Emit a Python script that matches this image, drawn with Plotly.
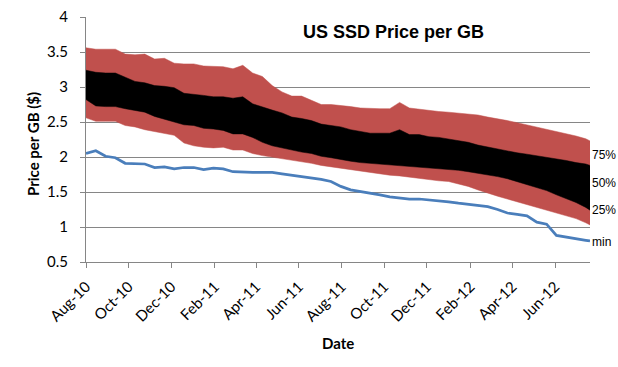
import plotly.graph_objects as go

dates = [
    "2010-08-01", "2010-08-15", "2010-08-29", "2010-09-12", "2010-09-26", "2010-10-10",
    "2010-10-24", "2010-11-07", "2010-11-21", "2010-12-05", "2010-12-19", "2011-01-02",
    "2011-01-16", "2011-01-30", "2011-02-13", "2011-02-27", "2011-03-13", "2011-03-27",
    "2011-04-10", "2011-04-24", "2011-05-08", "2011-05-22", "2011-06-05", "2011-06-19",
    "2011-07-03", "2011-07-17", "2011-07-31", "2011-08-14", "2011-08-28", "2011-09-11",
    "2011-09-25", "2011-10-09", "2011-10-23", "2011-11-06", "2011-11-20", "2011-12-04",
    "2011-12-18", "2012-01-01", "2012-01-15", "2012-01-29", "2012-02-12", "2012-02-26",
    "2012-03-11", "2012-03-25", "2012-04-08", "2012-04-22", "2012-05-06", "2012-05-20",
    "2012-06-03", "2012-06-17", "2012-07-01", "2012-07-15", "2012-07-21",
]

red_top = [
    3.56, 3.54, 3.54, 3.54, 3.47, 3.46, 3.47, 3.40, 3.41, 3.34, 3.33, 3.33, 3.30,
    3.29, 3.29, 3.26, 3.31, 3.20, 3.15, 3.02, 2.93, 2.87, 2.87, 2.81, 2.75, 2.75,
    2.74, 2.72, 2.70, 2.69, 2.69, 2.69, 2.78, 2.70, 2.68, 2.66, 2.65, 2.64, 2.63,
    2.62, 2.60, 2.57, 2.55, 2.52, 2.49, 2.46, 2.43, 2.40, 2.36, 2.33, 2.30, 2.26, 2.23,
]

black_top = [
    3.24, 3.21, 3.20, 3.20, 3.14, 3.08, 3.06, 3.02, 3.01, 2.99, 2.91, 2.90, 2.88,
    2.86, 2.86, 2.84, 2.86, 2.76, 2.71, 2.67, 2.63, 2.57, 2.55, 2.52, 2.47, 2.45,
    2.43, 2.39, 2.36, 2.34, 2.34, 2.34, 2.39, 2.32, 2.32, 2.29, 2.28, 2.26, 2.24,
    2.21, 2.17, 2.14, 2.11, 2.09, 2.06, 2.04, 2.02, 2.00, 1.98, 1.95, 1.92, 1.90, 1.88,
]

black_bottom = [
    2.82, 2.73, 2.72, 2.72, 2.69, 2.67, 2.64, 2.58, 2.54, 2.50, 2.46, 2.45, 2.41,
    2.40, 2.38, 2.33, 2.33, 2.28, 2.21, 2.16, 2.13, 2.09, 2.07, 2.05, 2.01, 1.99,
    1.96, 1.94, 1.92, 1.91, 1.90, 1.89, 1.88, 1.87, 1.86, 1.85, 1.84, 1.83, 1.81,
    1.79, 1.77, 1.75, 1.72, 1.69, 1.65, 1.61, 1.57, 1.52, 1.46, 1.41, 1.35, 1.28, 1.24,
]

red_bottom = [
    2.56, 2.51, 2.51, 2.51, 2.45, 2.43, 2.39, 2.36, 2.33, 2.31, 2.20, 2.16, 2.14,
    2.13, 2.14, 2.10, 2.10, 2.05, 2.02, 2.00, 1.98, 1.95, 1.93, 1.91, 1.88, 1.86,
    1.83, 1.81, 1.79, 1.77, 1.76, 1.74, 1.73, 1.71, 1.69, 1.68, 1.66, 1.65, 1.62,
    1.58, 1.53, 1.48, 1.44, 1.40, 1.36, 1.33, 1.29, 1.25, 1.21, 1.16, 1.12, 1.06, 1.03,
]

min_price = [
    2.05, 2.09, 2.01, 1.99, 1.91, 1.91, 1.90, 1.85, 1.86, 1.83, 1.85, 1.85, 1.82,
    1.84, 1.83, 1.79, 1.78, 1.78, 1.78, 1.78, 1.76, 1.74, 1.72, 1.71, 1.68, 1.65,
    1.58, 1.53, 1.51, 1.48, 1.46, 1.43, 1.41, 1.40, 1.40, 1.39, 1.38, 1.36, 1.34,
    1.32, 1.31, 1.29, 1.25, 1.20, 1.18, 1.16, 1.07, 1.04, 0.88, 0.86, 0.83, 0.81, 0.80,
]

tick_dates = ["2010-08-01", "2010-10-01", "2010-12-01", "2011-02-01", "2011-04-01",
              "2011-06-01", "2011-08-01", "2011-10-01", "2011-12-01", "2012-02-01",
              "2012-04-01", "2012-06-01"]
tick_labels = ["Aug-10", "Oct-10", "Dec-10", "Feb-11", "Apr-11", "Jun-11",
               "Aug-11", "Oct-11", "Dec-11", "Feb-12", "Apr-12", "Jun-12"]

y_ticks = [0.5, 1, 1.5, 2, 2.5, 3, 3.5, 4]
y_tick_labels = ["0.5", "1", "1.5", "2", "2.5", "3", "3.5", "4"]

series_labels = ["75%", "50%", "25%", "min"]
label_values = [2.03, 1.63, 1.25, 0.78]

RED = "#C0504D"
BLUE = "#4A7EBB"
GRID = "#868686"

fig = go.Figure()
fig.add_trace(go.Scatter(x=dates, y=red_bottom, mode="lines",
                         line=dict(color=RED, width=0.5), showlegend=False, hoverinfo="skip"))
fig.add_trace(go.Scatter(x=dates, y=red_top, mode="lines", fill="tonexty", fillcolor=RED,
                         line=dict(color=RED, width=0.5), showlegend=False))
fig.add_trace(go.Scatter(x=dates, y=black_bottom, mode="lines",
                         line=dict(color="black", width=0.5), showlegend=False, hoverinfo="skip"))
fig.add_trace(go.Scatter(x=dates, y=black_top, mode="lines", fill="tonexty", fillcolor="black",
                         line=dict(color="black", width=0.5), showlegend=False))
fig.add_trace(go.Scatter(x=dates, y=min_price, mode="lines",
                         line=dict(color=BLUE, width=2.75), showlegend=False))

font_family = "Lato, Open Sans, sans-serif"

fig.update_layout(
    width=618, height=367,
    margin=dict(l=86, r=28, t=17, b=105, autoexpand=False),
    paper_bgcolor="white", plot_bgcolor="white",
    font=dict(family=font_family, size=15, color="black"),
    xaxis=dict(
        type="date", range=["2010-08-01", "2012-07-21"], automargin=False,
        tickvals=tick_dates, ticktext=tick_labels, tickangle=-45,
        showgrid=False, showline=True, linecolor=GRID, linewidth=1,
        ticks="outside", ticklen=5, tickcolor=GRID, ticklabelstandoff=4,
        tickfont=dict(family=font_family, size=15, color="black"),
        zeroline=False,
    ),
    yaxis=dict(
        range=[0.5, 4.0001], tickvals=y_ticks, ticktext=y_tick_labels, automargin=False,
        showgrid=True, gridcolor=GRID, gridwidth=1,
        showline=True, linecolor=GRID, linewidth=1,
        ticks="outside", ticklen=5, tickcolor=GRID, ticklabelstandoff=9,
        tickfont=dict(family=font_family, size=15, color="black"),
        zeroline=False,
    ),
)

annotations = [
    dict(text="<b>US SSD Price per GB</b>", xref="paper", yref="paper",
         x=(393 - 86) / 504, y=(262 - 32) / 245, xanchor="center", yanchor="middle",
         showarrow=False,
         font=dict(family="Liberation Sans, Arial, sans-serif", size=18, color="black")),
    dict(text="<b>Price per GB ($)</b>", xref="paper", yref="paper",
         x=(33 - 86) / 504, y=(262 - 144) / 245, xanchor="center", yanchor="middle",
         textangle=-90, showarrow=False,
         font=dict(family=font_family, size=15, color="black")),
    dict(text="<b>Date</b>", xref="paper", yref="paper",
         x=(338 - 86) / 504, y=(262 - 343) / 245, xanchor="center", yanchor="middle",
         showarrow=False,
         font=dict(family=font_family, size=15, color="black")),
]
for lab, val in zip(series_labels, label_values):
    annotations.append(dict(text=lab, xref="paper", yref="y", x=1, y=val,
                            xanchor="left", yanchor="middle", xshift=0, showarrow=False,
                            font=dict(family="Liberation Sans, Arial, sans-serif", size=12, color="black")))
fig.update_layout(annotations=annotations)

# remove the default 8px page margin so the figure sits at the window's top-left corner
fig.write_html("out.html", config={"displayModeBar": False},
               post_script="document.body.style.margin='0';document.body.style.overflow='hidden';")
